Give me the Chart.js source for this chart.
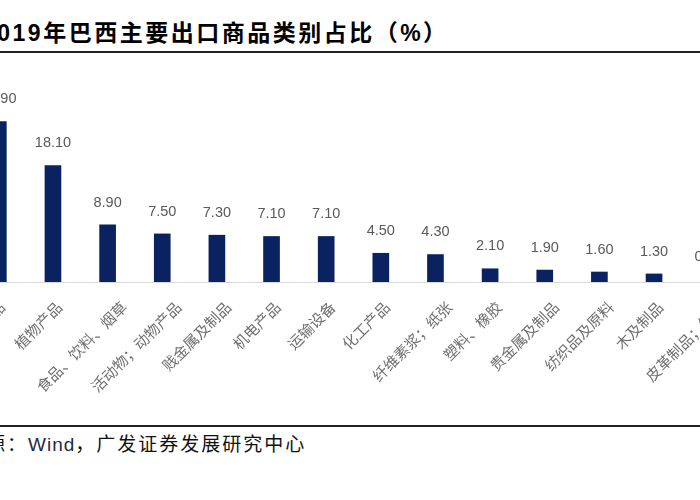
<!DOCTYPE html>
<html><head><meta charset="utf-8">
<script src="https://cdn.jsdelivr.net/npm/chart.js@4.4.0/dist/chart.umd.min.js"></script>
<style>
html,body{margin:0;padding:0;background:#fff;width:700px;height:500px;overflow:hidden;position:relative;}
#title{position:absolute;left:-18px;top:18px;font:bold 23px "Liberation Sans","Noto Sans CJK SC",sans-serif;color:#000;white-space:nowrap;letter-spacing:2.5px;line-height:30px;}
.rule{position:absolute;left:0;width:700px;height:2px;background:#222;}
#wrap{position:absolute;left:-29px;top:56px;width:765px;height:366px;}
#source{position:absolute;left:-35px;top:433px;font:19px "Liberation Sans","Noto Sans CJK SC",sans-serif;color:#111;white-space:nowrap;letter-spacing:2px;line-height:24px;}
#source span{letter-spacing:1px;color:#1f2a44;}
</style></head>
<body>
<div id="title">2019年巴西主要出口商品类别占比（%）</div>
<div class="rule" style="top:51px"></div>
<div id="wrap"><canvas id="c"></canvas></div>
<div class="rule" style="top:425px"></div>
<div id="source">来源：<span>Wind</span>，广发证券发展研究中心</div>
<script>
const categories = ["矿产品","植物产品","食品、饮料、烟草","活动物；动物产品","贱金属及制品","机电产品","运输设备","化工产品","纤维素浆；纸张","塑料、橡胶","贵金属及制品","纺织品及原料","木及制品","皮革制品；箱包"];
const shares = [24.9, 18.1, 8.9, 7.5, 7.3, 7.1, 7.1, 4.5, 4.3, 2.1, 1.9, 1.6, 1.3, 0.4];
const yMax = 35;

const valueLabels = {
  id: 'valueLabels',
  afterDatasetsDraw(chart) {
    const ctx = chart.ctx;
    const meta = chart.getDatasetMeta(0);
    ctx.save();
    ctx.font = '14.5px "Liberation Sans", Arial, sans-serif';
    ctx.fillStyle = '#595959';
    ctx.textAlign = 'center';
    ctx.textBaseline = 'middle';
    meta.data.forEach((bar, i) => {
      ctx.fillText(shares[i].toFixed(2), bar.x, bar.y - 22);
    });
    ctx.restore();
  }
};

const categoryLabels = {
  id: 'categoryLabels',
  afterDraw(chart) {
    const ctx = chart.ctx;
    const xs = chart.scales.x;
    ctx.save();
    ctx.font = '15px "Noto Sans CJK SC", sans-serif';
    ctx.fillStyle = '#6f6f6f';
    ctx.textAlign = 'right';
    ctx.textBaseline = 'middle';
    categories.forEach((lab, i) => {
      const n = Array.from(lab).length;
      const x = xs.getPixelForTick(i) + 2.5 * (n - 4);
      const y = xs.top + 16;
      ctx.save();
      ctx.translate(x, y);
      ctx.rotate(-Math.PI / 4);
      ctx.fillText(lab, 0, 9);
      ctx.restore();
    });
    ctx.restore();
  }
};

new Chart(document.getElementById('c'), {
  type: 'bar',
  data: {
    labels: categories,
    datasets: [{
      data: shares,
      backgroundColor: '#0b2260',
      barPercentage: 0.305,
      categoryPercentage: 1.0
    }]
  },
  options: {
    responsive: true,
    maintainAspectRatio: false,
    animation: false,
    layout: { padding: 0 },
    plugins: { legend: { display: false }, tooltip: { enabled: false } },
    scales: {
      x: {
        grid: { display: false, drawTicks: false },
        border: { display: true, color: '#d9d9d9', width: 1 },
        ticks: { display: false },
        afterFit(scale) {
          scale.height = 140;
          scale.paddingLeft = 0;
          scale.paddingRight = 0;
        }
      },
      y: {
        display: false,
        min: 0,
        max: yMax
      }
    }
  },
  plugins: [valueLabels, categoryLabels]
});
</script>
</body></html>
